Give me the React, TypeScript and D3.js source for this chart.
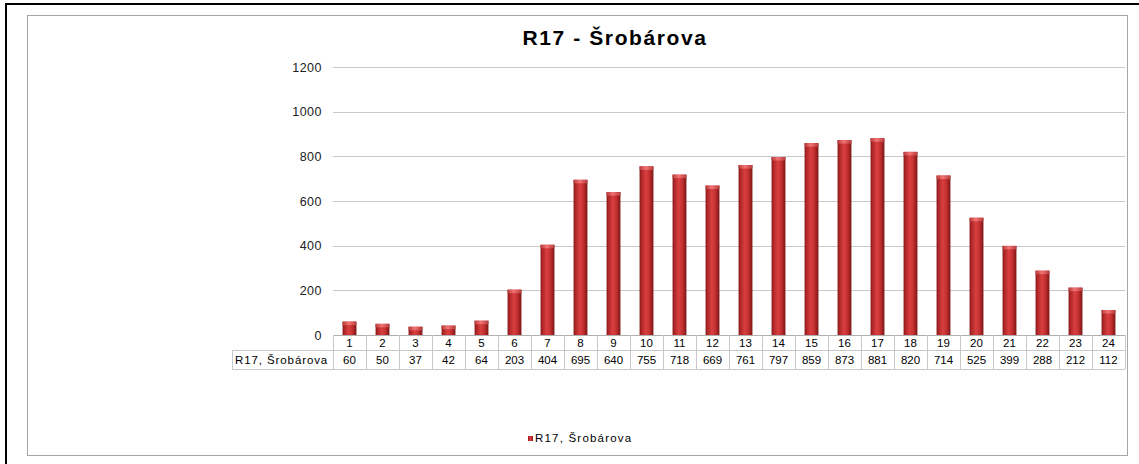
import React from "react";
import * as d3 from "d3";

const categories = ["1","2","3","4","5","6","7","8","9","10","11","12","13","14","15","16","17","18","19","20","21","22","23","24"];
const values = [60,50,37,42,64,203,404,695,640,755,718,669,761,797,859,873,881,820,714,525,399,288,212,112];
const yTicks = [0,200,400,600,800,1000,1200];
const seriesName = "R17, Šrobárova";
const title = "R17 - Šrobárova";

export default function App() {
  const W = 1139, H = 464;
  const x0 = 333, x1 = 1125, yBase = 335, yTop = 67;
  const x = d3.scaleBand<string>().domain(categories).range([x0, x1]).paddingInner(0.58).paddingOuter(0.29);
  const cell = d3.scaleBand<string>().domain(categories).range([x0, x1]);
  const y = d3.scaleLinear().domain([0, 1200]).range([yBase, yTop]);
  const font = "Liberation Sans, Arial, sans-serif";
  const row1Top = yBase, row1Bot = 350, row2Bot = 369, headLeft = 232;
  return (
    <svg width={W} height={H} style={{ position: "absolute", left: 0, top: 0 }}>
      <defs>
        <linearGradient id="barG" x1="0" x2="1" y1="0" y2="0">
          <stop offset="0" stopColor="#821617" />
          <stop offset="0.12" stopColor="#ad2527" />
          <stop offset="0.45" stopColor="#d8403f" />
          <stop offset="0.7" stopColor="#c53031" />
          <stop offset="1" stopColor="#7c1515" />
        </linearGradient>
        <linearGradient id="capG" x1="0" x2="1" y1="0" y2="0">
          <stop offset="0" stopColor="#b83c3c" />
          <stop offset="0.45" stopColor="#f27474" />
          <stop offset="1" stopColor="#b83c3c" />
        </linearGradient>
      </defs>
      <rect x={0} y={0} width={W} height={H} fill="#fff" />
      <line x1={5} y1={4} x2={W} y2={4} stroke="#000" strokeWidth={2} />
      <line x1={6} y1={3} x2={6} y2={H} stroke="#000" strokeWidth={2} />
      <rect x={27.5} y={15.5} width={1100} height={440} fill="#fff" stroke="#a6a6a6" strokeWidth={1} />
      <text x={615} y={45} textAnchor="middle" fontFamily={font} fontWeight="bold" fontSize={21} letterSpacing={1.6} fill="#000">{title}</text>
      {yTicks.filter(t => t > 0).map(t => (
        <line key={t} x1={x0} x2={x1} y1={Math.round(y(t)) + 0.5} y2={Math.round(y(t)) + 0.5} stroke="#c8c8c8" strokeWidth={1} />
      ))}
      {yTicks.map(t => (
        <text key={"l" + t} x={322} y={y(t) + 4.5} textAnchor="end" fontFamily={font} fontSize={12.5} letterSpacing={0.5} fill="#222">{t}</text>
      ))}
      {categories.map((c, i) => {
        const bx = x(c)!, bw = x.bandwidth(), by = y(values[i]);
        return (
          <g key={c}>
            <rect x={bx} y={by} width={bw} height={yBase - by} fill="url(#barG)" />
            <rect x={bx} y={by} width={bw} height={3.5} fill="url(#capG)" />
          </g>
        );
      })}
      <line x1={x0} x2={x1} y1={row1Top + 0.5} y2={row1Top + 0.5} stroke="#b0b0b0" />
      <line x1={headLeft} x2={x1} y1={row1Bot + 0.5} y2={row1Bot + 0.5} stroke="#c8c8c8" />
      <line x1={headLeft} x2={x1} y1={row2Bot + 0.5} y2={row2Bot + 0.5} stroke="#c8c8c8" />
      <line x1={headLeft + 0.5} x2={headLeft + 0.5} y1={row1Bot} y2={row2Bot} stroke="#c8c8c8" />
      {categories.map((c) => (
        <line key={"v" + c} x1={Math.round(cell(c)!) + 0.5} x2={Math.round(cell(c)!) + 0.5} y1={row1Top} y2={row2Bot} stroke="#c8c8c8" />
      ))}
      <line x1={x1 + 0.5} x2={x1 + 0.5} y1={row1Top} y2={row2Bot} stroke="#c8c8c8" />
      {categories.map((c, i) => (
        <g key={"t" + c}>
          <text x={cell(c)! + cell.bandwidth() / 2} y={347} textAnchor="middle" fontFamily={font} fontSize={11.5} fill="#000">{c}</text>
          <text x={cell(c)! + cell.bandwidth() / 2} y={364} textAnchor="middle" fontFamily={font} fontSize={11.5} fill="#000">{values[i]}</text>
        </g>
      ))}
      <text x={headLeft + 3} y={364} fontFamily={font} fontSize={11.5} letterSpacing={0.9} fill="#000">{seriesName}</text>
      <rect x={528} y={436} width={5} height={5} fill="url(#barG)" />
      <text x={535} y={442} fontFamily={font} fontSize={11.5} letterSpacing={1.2} fill="#000">{seriesName}</text>
    </svg>
  );
}
